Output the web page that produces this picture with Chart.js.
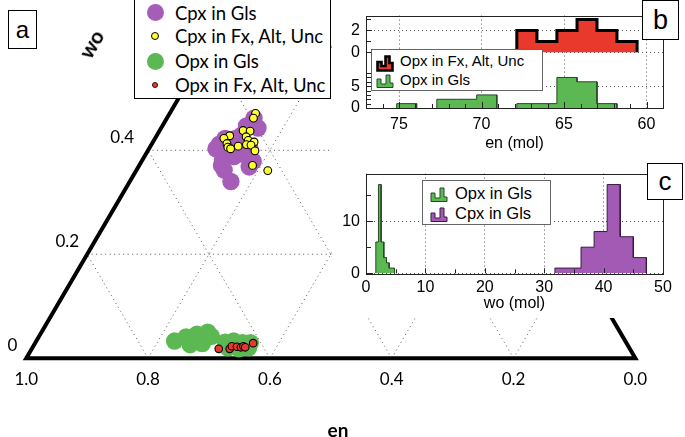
<!DOCTYPE html>
<html><head><meta charset="utf-8">
<script src="https://cdn.jsdelivr.net/npm/chart.js@4.4.1/dist/chart.umd.min.js"></script>
<style>
html,body{margin:0;padding:0;background:#fff;overflow:hidden;}
#wrap{position:relative;width:685px;height:437px;overflow:hidden;background:#fff;}
canvas{position:absolute;}
.box{position:absolute;background:#fff;border:1.5px solid #000;box-sizing:border-box;display:flex;align-items:center;justify-content:center;font-family:"Liberation Sans",Arial,sans-serif;color:#000;}
.ta{font-family:Lato,"Open Sans",sans-serif;color:#000;position:absolute;white-space:nowrap;}
.mk{position:absolute;border-radius:50%;box-sizing:border-box;}
.leg{position:absolute;background:#fff;border:1.5px solid #666;box-sizing:border-box;}
.lt{position:absolute;font-family:"Liberation Sans",Arial,sans-serif;color:#000;white-space:nowrap;line-height:20px;height:20px;}
svg{position:absolute;overflow:visible;}
</style></head><body>
<div id="wrap">
  <canvas id="ct" width="685" height="437" style="left:0;top:0"></canvas>
  <!-- panel a legend -->
  <div style="position:absolute;left:134px;top:-2px;width:197px;height:101px;border:1px solid #000;background:#fff;box-sizing:border-box;"></div>
  <div class="mk" style="left:146.5px;top:4px;width:17px;height:17px;background:#a55db8;"></div>
  <div class="mk" style="left:151px;top:32px;width:8px;height:8px;background:#ffff33;border:1px solid #000;"></div>
  <div class="mk" style="left:146.5px;top:52.5px;width:17px;height:17px;background:#5cb852;"></div>
  <div class="mk" style="left:152px;top:82px;width:6px;height:6px;background:#e8392c;border:0.8px solid #400;"></div>
  <div class="ta" style="left:175px;top:0.5px;font-size:18.5px;line-height:24px;">Cpx in Gls</div>
  <div class="ta" style="left:175px;top:24px;font-size:18.5px;line-height:24px;">Cpx in Fx, Alt, Unc</div>
  <div class="ta" style="left:175px;top:48.5px;font-size:18.5px;line-height:24px;">Opx in Gls</div>
  <div class="ta" style="left:175px;top:73px;font-size:18.5px;line-height:24px;">Opx in Fx, Alt, Unc</div>
  <div class="box" style="left:8px;top:10px;width:29px;height:39px;font-size:24px;">a</div>
  <div class="ta" style="left:71px;top:30px;width:40px;height:28px;line-height:28px;text-align:center;font-size:21px;font-weight:bold;transform:rotate(-60deg);">wo</div>
  <div class="ta" style="left:318px;top:418px;width:40px;line-height:24px;text-align:center;font-size:19px;font-weight:bold;">en</div>

  <!-- insets background -->
  <div style="position:absolute;left:332px;top:0;width:353px;height:318px;background:#fff;"></div>
  <canvas id="cb" width="350" height="158" style="left:335px;top:0"></canvas>
  <canvas id="cc" width="350" height="160" style="left:335px;top:158px"></canvas>

  <!-- panel b legend -->
  <div class="leg" style="left:371px;top:49px;width:172px;height:42px;"></div>
  <svg style="left:376px;top:54px" width="18" height="18"><path d="M1.5,16.5 V8 H5.5 V12 H9.5 V2.5 H13.5 V9 H16.5 V16.5 Z" fill="#e8392c" stroke="#000" stroke-width="2.6" stroke-linejoin="miter"/></svg>
  <svg style="left:376px;top:71px" width="18" height="18"><path d="M1,16.5 V8 H5 V13 H10 V4 H14 V12 H17 V16.5 Z" fill="#5cb852" stroke="#234a20" stroke-width="1"/></svg>
  <div class="lt" style="left:400px;top:51px;font-size:15px;">Opx in Fx, Alt, Unc</div>
  <div class="lt" style="left:400px;top:69.5px;font-size:15px;">Opx in Gls</div>
  <div class="box" style="left:642px;top:0px;width:37px;height:40px;font-size:27px;">b</div>

  <!-- panel c legend -->
  <div class="leg" style="left:422px;top:180px;width:129px;height:45px;"></div>
  <svg style="left:430px;top:185px" width="18" height="18"><path d="M1,16.5 V8 H5 V13 H10 V3 H14 V12 H17 V16.5 Z" fill="#5cb852" stroke="#234a20" stroke-width="1"/></svg>
  <svg style="left:430px;top:205px" width="18" height="18"><path d="M1,16.5 V8 H5 V13 H10 V3 H14 V12 H17 V16.5 Z" fill="#a25ab5" stroke="#3a1a40" stroke-width="1"/></svg>
  <div class="lt" style="left:455px;top:183px;font-size:16.5px;">Opx in Gls</div>
  <div class="lt" style="left:455px;top:203px;font-size:16.5px;">Cpx in Gls</div>
  <div class="box" style="left:647px;top:163px;width:36px;height:37px;font-size:26px;">c</div>
</div>
<script>
// ---------------- DATA ----------------
// Panel a: ternary compositions [en, wo] (mole fractions)
const cpxGls = [[0.395,0.462],[0.398,0.443],[0.415,0.447],[0.432,0.429],[0.462,0.423],[0.477,0.412],
  [0.487,0.403],[0.463,0.408],[0.431,0.403],[0.487,0.382],[0.465,0.388],[0.494,0.371],[0.450,0.368],
  [0.438,0.379],[0.494,0.340],[0.494,0.362],[0.445,0.423],[0.446,0.392]];
const cpxFx = [[0.388,0.471],[0.396,0.462],[0.425,0.438],[0.414,0.437],[0.452,0.428],[0.464,0.423],
  [0.426,0.426],[0.426,0.419],[0.418,0.416],[0.464,0.413],[0.466,0.406],[0.448,0.408],[0.433,0.411],
  [0.426,0.410],[0.425,0.399],[0.443,0.371],[0.423,0.361],[0.463,0.403]];
const opxGls = [[0.740,0.033],[0.717,0.041],[0.697,0.046],[0.677,0.050],[0.718,0.026],[0.697,0.028],
  [0.675,0.042],[0.658,0.031],[0.643,0.033],[0.630,0.030],[0.617,0.030],[0.659,0.020],[0.642,0.018],[0.625,0.020]];
const opxFx = [[0.675,0.018],[0.657,0.018],[0.651,0.023],[0.643,0.022],[0.637,0.021],[0.632,0.023],[0.630,0.021],[0.613,0.029]];
const enTickVals = [1.0,0.8,0.6,0.4,0.2,0.0];
const woTickVals = [0,0.2,0.4];
const gridLevels = [0.2,0.4,0.6,0.8];

// Panel b: en (mol) histograms
const enEdges = [75.14,73.93,72.71,71.50,70.29,69.07,67.86,66.64,65.43,64.21,63.00,61.79,60.57];
const opxGlsEnCounts = [1,0,2,2,3,0,1,1,7,6,1,0];
const opxFxEnCounts  = [0,0,0,0,0,0,2,1,2,3,2,1];
const enTicks = [75,70,65,60];
const bRedTicks = [0,2];
const bGreenTicks = [0,5];

// Panel c: wo (mol) histograms
const woEdgesOpx = [1.65,2.1,2.55,3.0,3.45,3.9,4.35,4.8];
const opxGlsWoCounts = [6,17,6,3,2,1,1];
const woEdgesCpx = [31.8,34.0,36.2,38.4,40.6,42.8,45.0,47.2];
const cpxGlsWoCounts = [1,1,5,8,17,7,3];
const woTicks = [0,10,20,30,40,50];
const cCountTicks = [0,10];

// ---------------- STYLE ----------------
const PURPLE='#a55db8', GREEN='#5cb852', RED='#e8392c', YELLOW='#ffff33';
const HPURPLE='#a25ab5', HGREEN='#5cb852';
Chart.defaults.font.family = '"Liberation Sans", Arial, sans-serif';

// ---------------- PANEL A (ternary) ----------------
const SQ = Math.sqrt(3)/2;
const T = (en, wo) => ({x: 1 - en - wo/2, y: wo*SQ});
const lineDs = (data, extra) => Object.assign({data, showLine:true, pointRadius:0, fill:false, borderColor:'#555', borderWidth:1, borderDash:[1,3.5], order:100}, extra||{});
const tDatasets = [];
gridLevels.forEach(v => {
  tDatasets.push(lineDs([T(1-v, v), T(0, v)]));
  tDatasets.push(lineDs([T(v, 0), T(v, 1-v)]));
  tDatasets.push(lineDs([T(1-v, 0), T(0, 1-v)]));
});
tDatasets.push(lineDs([T(0,1),T(1,0),T(0,0),T(0,1)], {borderColor:'#000', borderWidth:4, borderDash:[], borderJoinStyle:'miter', order:90}));
const ptDs = (arr, r, bg, bw, ord) => ({data: arr.map(p=>T(p[0],p[1])), showLine:false, pointRadius:r, pointBackgroundColor:bg, pointBorderColor:'#000', pointBorderWidth:bw, borderWidth:0, order:ord});
tDatasets.push(ptDs(cpxGls, 8.7, PURPLE, 0, 4));
tDatasets.push(ptDs(cpxFx, 3.9, YELLOW, 1.1, 3));
tDatasets.push(ptDs(opxGls, 8.7, GREEN, 0, 2));
tDatasets.push(ptDs(opxFx, 3.8, RED, 1.1, 1));

const woLabelDx = [-9, -8, -14];
const ternLabels = {
  id:'ternLabels',
  afterDatasetsDraw(chart){
    const {ctx, scales:{x, y}} = chart;
    ctx.save(); ctx.fillStyle='#000'; ctx.font='17px Lato'; ctx.textBaseline='middle';
    ctx.textAlign='center';
    enTickVals.forEach(v => { const p = T(v,0); ctx.fillText(v.toFixed(1), x.getPixelForValue(p.x), y.getPixelForValue(p.y)+21); });
    ctx.textAlign='right';
    woTickVals.forEach((w,i) => { const p = T(1-w,w); ctx.fillText(w===0?'0':w.toFixed(1), x.getPixelForValue(p.x)+woLabelDx[i], y.getPixelForValue(p.y)-12.5); });
    ctx.restore();
  }
};
new Chart(document.getElementById('ct'), {
  type:'line',
  data:{datasets:tDatasets},
  options:{responsive:false, animation:false, events:[], layout:{padding:0},
    plugins:{legend:{display:false}, tooltip:{enabled:false}},
    scales:{x:{type:'linear', display:false, min:-18/625, max:667/625},
            y:{type:'linear', display:false, min:-73/625, max:364/625}}},
  plugins:[ternLabels]
});

// ---------------- helpers for histograms ----------------
function histPts(edges, counts){
  const pts=[]; let open=false;
  counts.forEach((c,i)=>{
    if(c>0){
      if(!open){ pts.push({x:edges[i],y:0}); open=true; }
      pts.push({x:edges[i],y:c}); pts.push({x:edges[i+1],y:c});
    } else if(open){ pts.push({x:edges[i],y:0}); pts.push({x:edges[i],y:null}); open=false; }
  });
  if(open) pts.push({x:edges[counts.length],y:0});
  return pts;
}
function range(a,b,s){ const r=[]; for(let v=a; v<=b+1e-9; v+=s) r.push(+v.toFixed(6)); return r; }
const frameTicks = {
  id:'frameTicks',
  afterDatasetsDraw(chart, args, opts){
    const ctx=chart.ctx, a=chart.chartArea;
    ctx.save(); ctx.strokeStyle='#222'; ctx.lineWidth=1;
    (opts.list||[]).forEach(t=>{
      const s=chart.scales[t.id];
      t.values.forEach(v=>{
        const len = (t.major||[]).includes(v) ? t.majorLen : t.len;
        ctx.beginPath();
        if(s.isHorizontal()){ const x=Math.round(s.getPixelForValue(v))+0.5; ctx.moveTo(x,a.bottom); ctx.lineTo(x,a.bottom-len); }
        else { const y=Math.round(s.getPixelForValue(v))+0.5; ctx.moveTo(a.left,y); ctx.lineTo(a.left+len,y); }
        ctx.stroke();
      });
    });
    ctx.strokeRect(Math.round(a.left)+0.5, Math.round(a.top)+0.5, Math.round(a.right-a.left), Math.round(a.bottom-a.top));
    ctx.restore();
  }
};
const tickFont = {size:16};
const gridOpt = {color:'#555', lineWidth:1, drawTicks:false};
const borderOpt = {display:false, dash:[1,3]};
const setTicks = arr => s => { s.ticks = arr.map(v=>({value:v})); };

// ---------------- PANEL B ----------------
new Chart(document.getElementById('cb'), {
  type:'line',
  data:{datasets:[
    {label:'Opx in Fx, Alt, Unc', data:histPts(enEdges, opxFxEnCounts), yAxisID:'yR', borderColor:'#000', borderWidth:3, backgroundColor:RED, fill:'origin', pointRadius:0, spanGaps:false, borderJoinStyle:'miter'},
    {label:'Opx in Gls', data:histPts(enEdges, opxGlsEnCounts), yAxisID:'yG', borderColor:'#234a20', borderWidth:1, backgroundColor:HGREEN, fill:'origin', pointRadius:0, spanGaps:false}
  ]},
  options:{responsive:false, animation:false, events:[],
    layout:{padding:{top:5,right:22,left:0,bottom:0}},
    plugins:{legend:{display:false}, tooltip:{enabled:false},
      frameTicks:{list:[
        {id:'x', values:range(60,76,1), major:enTicks, len:4, majorLen:6},
        {id:'yR', values:range(0,3,1), major:bRedTicks, len:5, majorLen:6},
        {id:'yG', values:range(0,8,1), major:bGreenTicks, len:5, majorLen:6}]}},
    scales:{
      x:{type:'linear', min:59, max:77, reverse:true, afterBuildTicks:setTicks(enTicks), afterFit:s=>{s.height=50;},
         ticks:{font:tickFont, color:'#000', padding:7}, grid:gridOpt, border:borderOpt,
         title:{display:true, text:'en (mol)', font:{size:16}, color:'#000', padding:{top:0,bottom:5}}},
      yG:{type:'linear', position:'left', stack:'b', stackWeight:62, min:0, max:12.75, afterBuildTicks:setTicks(bGreenTicks), afterFit:s=>{s.width=31;},
         ticks:{font:tickFont, color:'#000', padding:6}, grid:gridOpt, border:borderOpt},
      yR:{type:'linear', position:'left', stack:'b', stackWeight:41, min:0, max:3.35, afterBuildTicks:setTicks(bRedTicks), afterFit:s=>{s.width=31;},
         ticks:{font:tickFont, color:'#000', padding:6}, grid:gridOpt, border:borderOpt}
    }},
  plugins:[frameTicks]
});

// ---------------- PANEL C ----------------
new Chart(document.getElementById('cc'), {
  type:'line',
  data:{datasets:[
    {label:'Opx in Gls', data:histPts(woEdgesOpx, opxGlsWoCounts), borderColor:'#234a20', borderWidth:1, backgroundColor:HGREEN, fill:'origin', pointRadius:0},
    {label:'Cpx in Gls', data:histPts(woEdgesCpx, cpxGlsWoCounts), borderColor:'#3a1a40', borderWidth:1, backgroundColor:HPURPLE, fill:'origin', pointRadius:0}
  ]},
  options:{responsive:false, animation:false, events:[],
    layout:{padding:{top:10.3,right:22,left:0,bottom:0}},
    plugins:{legend:{display:false}, tooltip:{enabled:false},
      frameTicks:{list:[
        {id:'x', values:range(5,45,5), major:woTicks, len:4, majorLen:5},
        {id:'y', values:range(0,15,5), major:cCountTicks, len:5, majorLen:7}]}},
    scales:{
      x:{type:'linear', min:0, max:50, afterBuildTicks:setTicks(woTicks), afterFit:s=>{s.height=44.7;},
         ticks:{font:tickFont, color:'#000', padding:5}, grid:gridOpt, border:borderOpt,
         title:{display:true, text:'wo (mol)', font:{size:16}, color:'#000', padding:{top:0,bottom:4.4}}},
      y:{type:'linear', min:0, max:19.1, afterBuildTicks:setTicks(cCountTicks), afterFit:s=>{s.width=31;},
         ticks:{font:tickFont, color:'#000', padding:6}, grid:gridOpt, border:borderOpt}
    }},
  plugins:[frameTicks]
});
</script>
</body></html>
